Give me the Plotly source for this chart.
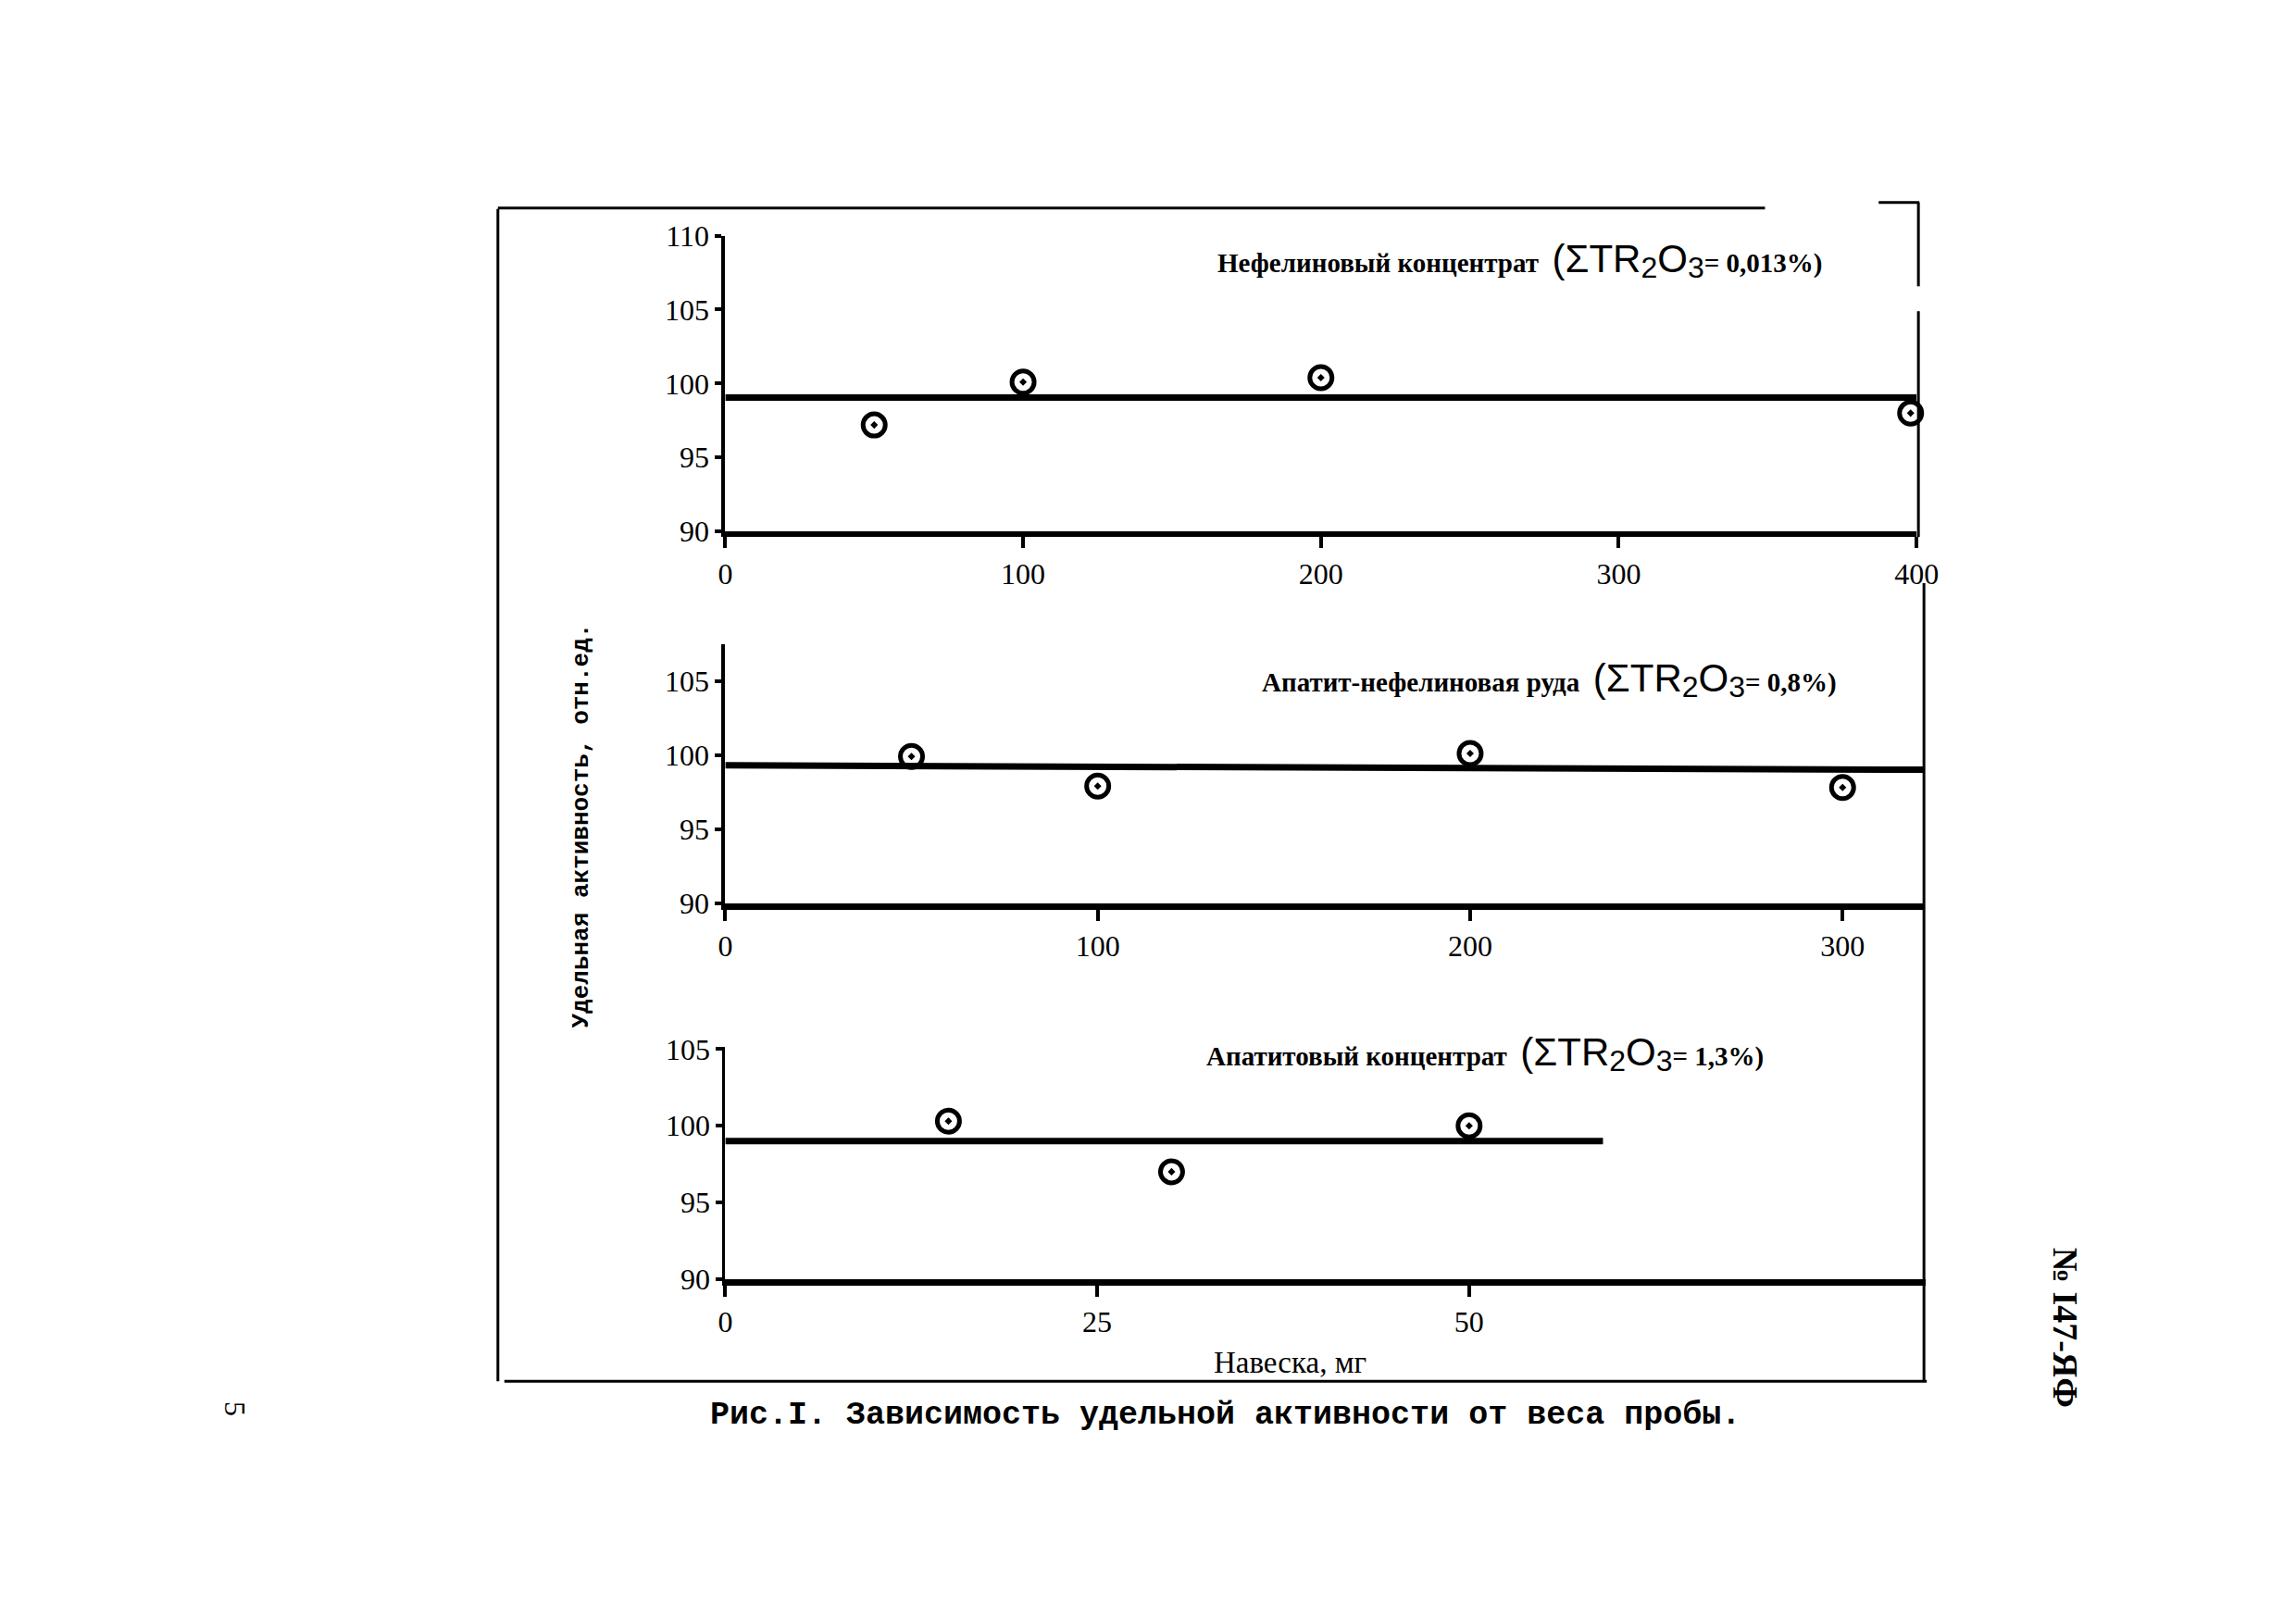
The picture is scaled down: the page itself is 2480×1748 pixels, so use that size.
import plotly.graph_objects as go

W, H = 2480, 1748

# ---------------- data ----------------
x1 = [50, 100, 200, 398]
y1 = [97.2, 100.1, 100.4, 98.0]
mean1_x = [0, 400]
mean1_y = [99.05, 99.05]

x2 = [50, 100, 200, 300]
y2 = [99.9, 97.9, 100.1, 97.8]
mean2_x = [0, 322]
mean2_y = [99.3, 99.0]

x3 = [15, 30, 50]
y3 = [100.3, 97.0, 100.0]
mean3_x = [0, 59]
mean3_y = [99.0, 99.0]

xt1 = [0, 100, 200, 300, 400]
xt2 = [0, 100, 200, 300]
xt3 = [0, 25, 50]
yt1 = [90, 95, 100, 105, 110]
yt2 = [90, 95, 100, 105]
yt3 = [90, 95, 100, 105]

title1 = "Нефелиновый концентрат"
title2 = "Апатит-нефелиновая руда"
title3 = "Апатитовый концентрат"
conc1 = "= 0,013%)"
conc2 = "= 0,8%)"
conc3 = "= 1,3%)"
ylabel = "Удельная активность, отн.ед."
xlabel = "Навеска, мг"
caption = "Рис.I. Зависимость удельной активности от веса пробы."
docnum = "№ I47-ЯФ"
pagenum = "5"

# empirical correction of the page -> photo mapping
KX, OX = 0.9888, 12.3
KY, OY = 0.9835, 23.5


def px(x):
    return ((x - OX) / KX) / W


def py(y):
    return 1 - ((y - OY) / KY) / H


SERIF = "Liberation Serif, DejaVu Serif, serif"
MONO = "Liberation Mono, DejaVu Sans Mono, monospace"

fig = go.Figure()

panels = [
    dict(x=x1, y=y1, mx=mean1_x, my=mean1_y, xs="x", ys="y"),
    dict(x=x2, y=y2, mx=mean2_x, my=mean2_y, xs="x2", ys="y2"),
    dict(x=x3, y=y3, mx=mean3_x, my=mean3_y, xs="x3", ys="y3"),
]
for p in panels:
    fig.add_trace(go.Scatter(x=p["mx"], y=p["my"], mode="lines",
                             line=dict(color="black", width=7),
                             xaxis=p["xs"], yaxis=p["ys"], showlegend=False,
                             hoverinfo="skip"))
    fig.add_trace(go.Scatter(x=p["x"], y=p["y"], mode="markers",
                             marker=dict(symbol="circle-open-dot", size=24,
                                         color="black",
                                         line=dict(color="black", width=5)),
                             cliponaxis=False,
                             xaxis=p["xs"], yaxis=p["ys"], showlegend=False))

tickfont = dict(family=SERIF, size=32, color="black")


def xax(dom, rng, tv, lw):
    return dict(domain=dom, range=rng, tickvals=tv, ticktext=[str(v) for v in tv],
                showgrid=False, zeroline=False, showline=True, linecolor="black",
                linewidth=lw, ticks="outside", ticklen=12, tickwidth=4,
                tickcolor="black", tickfont=tickfont, fixedrange=True)


def yax(dom, rng, tv, anchor, lw):
    return dict(domain=dom, range=rng, tickvals=tv, ticktext=[str(v) for v in tv],
                showgrid=False, zeroline=False, showline=True, linecolor="black",
                linewidth=lw, ticks="outside", ticklen=7, tickwidth=4,
                tickcolor="black", tickfont=tickfont, anchor=anchor,
                fixedrange=True)


fig.update_layout(
    width=W, height=H,
    margin=dict(l=0, r=0, t=0, b=0),
    paper_bgcolor="white", plot_bgcolor="white",
    xaxis=xax([px(781), px(2070)], [0, 400], xt1, 6),
    yaxis=yax([py(574), py(253)], [90, 110], yt1, "x", 4),
    xaxis2=xax([px(781), px(2077)], [0, 321.6], xt2, 7),
    yaxis2=yax([py(977), py(696)], [90, 107.5], yt2, "x2", 4),
    xaxis3=xax([px(781), px(2080)], [0, 80.7], xt3, 7),
    yaxis3=yax([py(1385), py(1133)], [90, 105.15], yt3, "x3", 3),
)
fig.update_layout(xaxis2=dict(anchor="y2"), xaxis3=dict(anchor="y3"))


def panel_title(name, conc, xr, yc):
    txt = ("<b>" + name + "</b>  <span style='font-family:Liberation Sans;font-size:42px'>(ΣTR</span>"
           "<sub><span style='font-family:Liberation Sans;font-size:32px'>2</span></sub>"
           "<span style='font-family:Liberation Sans;font-size:42px'>O</span>"
           "<sub><span style='font-family:Liberation Sans;font-size:32px'>3</span></sub>"
           "<b>" + conc + "</b>")
    fig.add_annotation(x=px(xr), y=py(yc), xref="paper", yref="paper",
                       text=txt, showarrow=False, xanchor="right", yanchor="middle",
                       font=dict(family=SERIF, size=29, color="black"))


panel_title(title1, conc1, 1970, 280)
panel_title(title2, conc2, 1986, 735)
panel_title(title3, conc3, 1907, 1141)


def note(text, x, y, size, family, angle=0, bold=False):
    fig.add_annotation(x=px(x), y=py(y), xref="paper", yref="paper",
                       text=("<b>" + text + "</b>") if bold else text,
                       showarrow=False, textangle=angle,
                       xanchor="center", yanchor="middle",
                       font=dict(family=family, size=size, color="black"))


note(ylabel, 625, 893, 26, MONO, -90, True)
note(xlabel, 1392, 1476, 33, SERIF)
note(caption, 1322, 1533, 35, MONO, 0, True)
note(docnum, 2232, 1438, 38, SERIF, 90, True)
note(pagenum, 250, 1526, 32, SERIF, 90)

# frame lines of the scanned figure
frame = [
    (535, 224, 535, 1496),
    (535, 223, 1906, 223),
    (2029, 217, 2073, 217),
    (2072, 217, 2072, 308),
    (2072, 335, 2072, 580),
    (2078, 630, 2078, 1496),
    (542, 1496, 2081, 1496),
]
for (xa, ya, xb, yb) in frame:
    fig.add_shape(type="line", xref="paper", yref="paper",
                  x0=px(xa), y0=py(ya), x1=px(xb), y1=py(yb),
                  line=dict(color="black", width=3))

fig.write_html("out.html")
